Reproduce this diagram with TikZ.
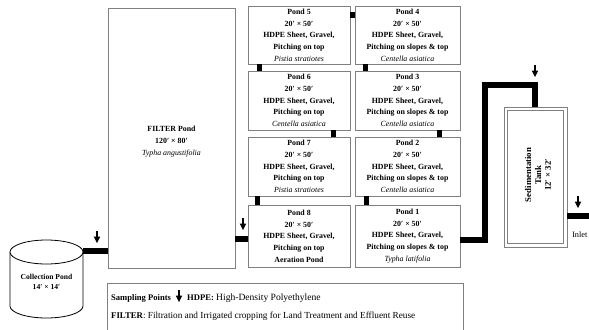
\documentclass[tikz,border=0pt]{standalone}
\usepackage{fontspec}
\setmainfont{Liberation Serif}
\begin{document}
\begin{tikzpicture}[x=1bp,y=-1bp,
  box/.style={draw=black!50, line width=0.8bp, fill=white, inner sep=0pt, align=center},
  pondbox/.style={box, font=\fontsize{7.9}{11.7}\selectfont\bfseries},
  pipe/.style={line width=6bp, line join=miter, line cap=butt},
  link/.style={line width=5bp, line cap=butt},
  sarrow/.pic={\fill (-1.2,0) rectangle (1.2,6.5); \fill (-3.3,5.5) -- (3.3,5.5) -- (0,12) -- cycle;}]
\useasboundingbox (0,0) rectangle (589,329);
\clip (0,0) rectangle (589,329);
% collection pond (cylinder)
\draw[line width=0.8bp, fill=white] (10,252) -- (10,306) arc[start angle=180, end angle=360, x radius=36.5, y radius=-12] -- (83,252);
\draw[line width=0.8bp, fill=white] (46.5,252) ellipse[x radius=36.5, y radius=12];
\node[align=center, font=\fontsize{7.6}{10}\selectfont\bfseries] (coll) at (46.5,282) {Collection Pond\\14′ × 14′};
\coordinate (collR) at (83,251);
% filter pond
\node[box, minimum width=127bp, minimum height=260bp] (filter) at (171.5,138) {};
\node[align=center, font=\fontsize{7.9}{12}\selectfont] (filtertxt) at (171.5,142) {\textbf{FILTER Pond}\\\textbf{120′ × 80′}\\\textit{Typha angustifolia}};
% ponds
\node[pondbox, minimum width=102bp, minimum height=58bp] (p5) at (299,35) {Pond 5\\20′ × 50′\\HDPE Sheet, Gravel,\\Pitching on top\\\mdseries\itshape Pistia stratiotes};
\node[pondbox, minimum width=102bp, minimum height=59bp] (p6) at (299,100.5) {Pond 6\\20′ × 50′\\HDPE Sheet, Gravel,\\Pitching on top\\\mdseries\itshape Centella asiatica};
\node[pondbox, minimum width=102bp, minimum height=59bp] (p7) at (299,166.5) {Pond 7\\20′ × 50′\\HDPE Sheet, Gravel,\\Pitching on top\\\mdseries\itshape Pistia stratiotes};
\node[pondbox, minimum width=102bp, minimum height=62bp] (p8) at (299,236) {Pond 8\\20′ × 50′\\HDPE Sheet, Gravel,\\Pitching on top\\Aeration Pond};
\node[pondbox, minimum width=105bp, minimum height=58bp] (p4) at (407.5,35) {Pond 4\\20′ × 50′\\HDPE Sheet, Gravel,\\Pitching on slopes \& top\\\mdseries\itshape Centella asiatica};
\node[pondbox, minimum width=105bp, minimum height=59bp] (p3) at (407.5,100.5) {Pond 3\\20′ × 50′\\HDPE Sheet, Gravel,\\Pitching on slopes \& top\\\mdseries\itshape Centella asiatica};
\node[pondbox, minimum width=105bp, minimum height=59bp] (p2) at (407.5,166.5) {Pond 2\\20′ × 50′\\HDPE Sheet, Gravel,\\Pitching on slopes \& top\\\mdseries\itshape Centella asiatica};
\node[pondbox, minimum width=105bp, minimum height=62bp] (p1) at (407.5,236) {Pond 1\\20′ × 50′\\HDPE Sheet, Gravel,\\Pitching on slopes \& top\\\mdseries\itshape Typha latifolia};
% sedimentation tank
\node[box, minimum width=63bp, minimum height=140bp] (tank) at (535.5,177) {};
\draw[draw=black!50, line width=0.8bp] ([shift={(4bp,-4bp)}]tank.north west) rectangle ([shift={(-4bp,4bp)}]tank.south east);
\node[rotate=90, align=center, font=\fontsize{8.8}{10}\selectfont\bfseries] (tanktxt) at (538,175) {Sedimentation\\Tank\\12′ × 32′};
% levels / coordinates
\coordinate (lvl8) at (0,239);
\coordinate (lvl1) at (0,240);
\coordinate (bendA) at (484.5,84.5);
\coordinate (bendB) at (534.5,84.5);
\coordinate (lvlIn) at (0,216);
\coordinate (inletEnd) at (595,216);
% thick pipes
\draw[pipe] (collR) -- (filter.west |- collR);
\draw[pipe] (filter.east |- lvl8) -- (p8.west |- lvl8);
\draw[pipe] (p1.east |- lvl1) -| (bendA) -- (bendB) -- (bendB |- tank.north);
\draw[pipe] (tank.east |- lvlIn) -- (inletEnd);
\node[anchor=west, inner sep=0pt, font=\fontsize{8.3}{10}\selectfont] (inlet) at (572,235) {Inlet};
% small links between ponds
\draw[line width=6bp, line cap=butt] ([yshift=20bp]p5.east) -- ([yshift=20bp]p4.west);
\draw[link] ([xshift=-40bp]p5.south) -- ([xshift=-40bp]p6.north);
\draw[link] ([xshift=-42.5bp]p4.south) -- ([xshift=-42.5bp]p3.north);
\draw[link] ([xshift=34bp]p6.south) -- ([xshift=34bp]p7.north);
\draw[link] ([xshift=31.5bp]p3.south) -- ([xshift=31.5bp]p2.north);
\draw[link] ([xshift=-42bp]p7.south) -- ([xshift=-42bp]p8.north);
\draw[link] ([xshift=-41.5bp]p2.south) -- ([xshift=-41.5bp]p1.north);
% sampling points
\pic at (97,231) {sarrow};
\pic at (243,218) {sarrow};
\pic at (535,65) {sarrow};
\pic at (578,196) {sarrow};
% legend
\node[box, anchor=north west, minimum width=356bp, minimum height=60bp] (leg) at (107,283) {};
\node[anchor=base west, inner sep=0pt, font=\fontsize{8.6}{10}\selectfont\bfseries] (l1) at (111,300) {Sampling Points};
\pic at (179,290) {sarrow};
\node[anchor=base west, inner sep=0pt, font=\fontsize{9.6}{10}\selectfont] (l2) at (187,300) {{\fontsize{8.6}{10}\selectfont\bfseries HDPE:} High-Density Polyethylene};
\node[anchor=base west, inner sep=0pt, font=\fontsize{9.3}{10}\selectfont] (l3) at (111,318) {{\fontsize{8.8}{10}\selectfont\bfseries FILTER}: Filtration and Irrigated cropping for Land Treatment and Effluent Reuse};
\end{tikzpicture}
\end{document}
